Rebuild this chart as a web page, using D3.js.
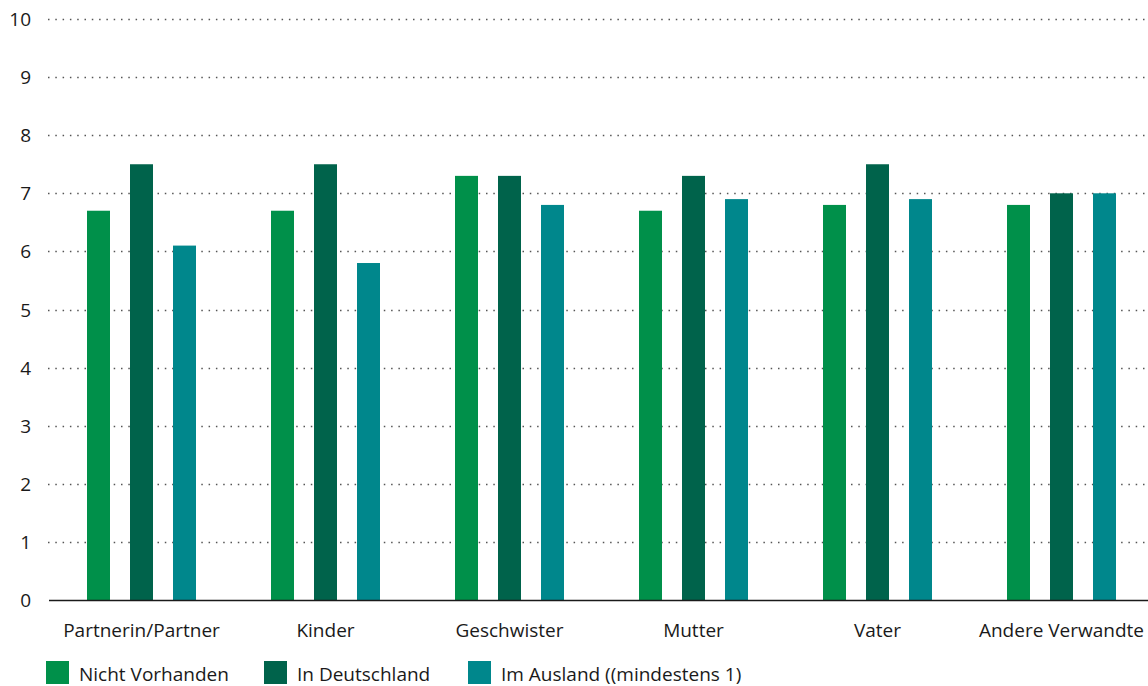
<!DOCTYPE html>
<html>
<head>
<meta charset="utf-8">
<script src="https://cdn.jsdelivr.net/npm/d3@7"></script>
<style>
  body { margin: 0; background: #fff; }
  text { font-family: "Open Sans", "Noto Sans", sans-serif; fill: #1a1a1a; }
</style>
</head>
<body>
<div id="chart"></div>
<script>
// data
let categories = ["Partnerin/Partner", "Kinder", "Geschwister", "Mutter", "Vater", "Andere Verwandte"];
let seriesNames = ["Nicht Vorhanden", "In Deutschland", "Im Ausland ((mindestens 1)"];
let nichtVorhanden = [6.7, 6.7, 7.3, 6.7, 6.8, 6.8];
let inDeutschland = [7.5, 7.5, 7.3, 7.3, 7.5, 7.0];
let imAusland = [6.1, 5.8, 6.8, 6.9, 6.9, 7.0];
let yTicks = [0, 1, 2, 3, 4, 5, 6, 7, 8, 9, 10];
let colors = ["#00904a", "#00634b", "#00878c"];

let values = [nichtVorhanden, inDeutschland, imAusland];

let width = 1148;
let height = 686;

let svg = d3.select("#chart")
  .append("svg")
  .attr("width", width).attr("height", height);

let xScale = d3.scaleBand()
  .domain(categories)
  .range([49.5, 1153.5]);

let subScale = d3.scaleBand()
  .domain(seriesNames)
  .range([-54.5, 54.5])
  .paddingInner(20 / 43);

let yScale = d3.scaleLinear()
  .domain([0, 10])
  .range([600, 19]);

// grid lines
svg.append("g")
  .selectAll("line")
  .data(yTicks.filter(d => d > 0)).enter()
  .append("line")
  .attr("x1", 48).attr("x2", width)
  .attr("y1", d => Math.round(yScale(d)) + 0.5)
  .attr("y2", d => Math.round(yScale(d)) + 0.5)
  .attr("stroke", "#555")
  .attr("stroke-width", 1.5)
  .attr("stroke-dasharray", "1.5,5.8");

// y tick labels
svg.append("g")
  .selectAll("text")
  .data(yTicks).enter()
  .append("text")
  .attr("x", 31)
  .attr("y", d => yScale(d) + 7)
  .attr("text-anchor", "end")
  .attr("font-size", 19)
  .text(d => d);

// bars
let groups = svg.append("g")
  .selectAll("g")
  .data(categories).enter()
  .append("g")
  .attr("transform", d => "translate(" + (xScale(d) + xScale.bandwidth() / 2) + ",0)");

groups.selectAll("rect")
  .data((c, i) => seriesNames.map((s, j) => ({ series: s, j: j, value: values[j][i] })))
  .enter()
  .append("rect")
  .attr("x", d => subScale(d.series))
  .attr("width", subScale.bandwidth())
  .attr("y", d => yScale(d.value))
  .attr("height", d => yScale(0) - yScale(d.value))
  .attr("fill", d => colors[d.j]);

// x axis line
svg.append("line")
  .attr("x1", 49).attr("x2", width)
  .attr("y1", 600.5).attr("y2", 600.5)
  .attr("stroke", "#1a1a1a")
  .attr("stroke-width", 1.5);

// category labels
svg.append("g")
  .selectAll("text")
  .data(categories).enter()
  .append("text")
  .attr("x", d => xScale(d) + xScale.bandwidth() / 2)
  .attr("y", 637)
  .attr("text-anchor", "middle")
  .attr("font-size", 19)
  .text(d => d);

// legend
let legendX = [46, 264, 468];
let legend = svg.append("g")
  .selectAll("g")
  .data(seriesNames).enter()
  .append("g")
  .attr("transform", (d, i) => "translate(" + legendX[i] + ",661)");

legend.append("rect")
  .attr("width", 23).attr("height", 23)
  .attr("fill", (d, i) => colors[i]);

legend.append("text")
  .attr("x", 33).attr("y", 20)
  .attr("font-size", 19)
  .text(d => d);
</script>
</body>
</html>
